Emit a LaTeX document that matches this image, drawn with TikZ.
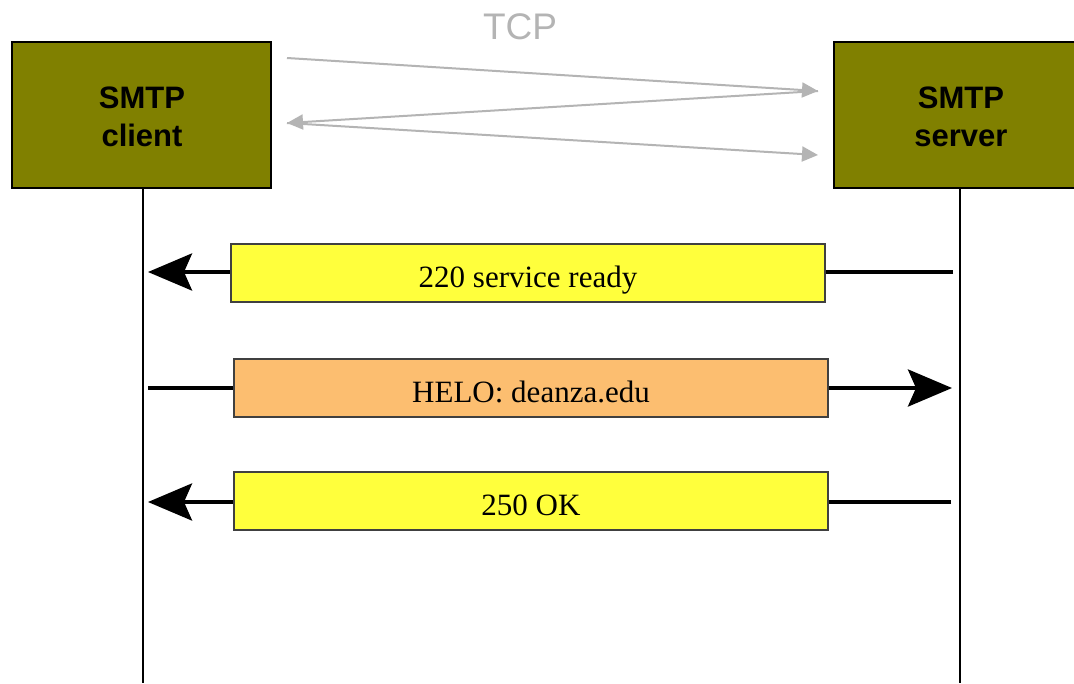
\documentclass[tikz,border=0pt]{standalone}
\usepackage{fontspec}
\setmainfont{Liberation Serif}
\setsansfont{Liberation Sans}
\usetikzlibrary{arrows.meta}
\definecolor{olivebox}{RGB}{128,128,0}
\definecolor{msgyellow}{RGB}{255,255,60}
\definecolor{msgorange}{RGB}{252,190,112}
\definecolor{tcpgray}{RGB}{180,180,180}
\tikzset{
  party/.style={draw=black, line width=2pt, fill=olivebox, minimum width=259pt,
    minimum height=146pt, inner sep=0pt},
  partytext/.style={align=center, inner sep=0pt,
    font=\sffamily\bfseries\fontsize{31}{38}\selectfont},
  msgbox/.style={draw=black!75, line width=1.3pt, minimum width=594pt,
    minimum height=58pt, inner sep=0pt, text height=28pt, text depth=0pt,
    font=\fontsize{31}{36}\selectfont},
  lifeline/.style={black, line width=1.4pt},
  msgline/.style={black, line width=4pt},
  bigtip/.style={-{Stealth[length=44pt, width=37pt, inset=8pt]}},
  tcpline/.style={tcpgray, line width=2pt, -{Triangle[length=16pt, width=15pt]}}
}
\begin{document}
\begin{tikzpicture}[x=1pt, y=-1pt]
  \useasboundingbox (0,0) rectangle (1074,683);
  \clip (0,0) rectangle (1074,683);
  \fill[white] (0,0) rectangle (1074,683);

  % the two parties
  \node[party] (client) at (141.5,115) {};
  \node[partytext] (clienttxt) at (142,117) {SMTP\\client};
  \node[party, minimum width=300pt] (server) at (984,115) {};
  \node[partytext] (servertxt) at (961,117) {SMTP\\server};

  % lifelines
  \coordinate (cbot) at (143,683);
  \coordinate (sbot) at (960,683);
  \draw[lifeline] (client.south -| cbot) -- (cbot);
  \draw[lifeline] (server.south -| sbot) -- (sbot);

  % TCP connection setup
  \node[font=\sffamily\fontsize{37}{40}\selectfont, text=tcpgray] (tcp) at (520,26.5) {TCP};
  \coordinate (t1) at (287,58);
  \coordinate (t2) at (818,91);
  \coordinate (t3) at (287,123);
  \coordinate (t4) at (818,155);
  \draw[tcpline] (t1) -- (t2);
  \draw[tcpline] (t2) -- (t3);
  \draw[tcpline] (t3) -- (t4);

  % message arrows between the lifelines
  \coordinate (a1s) at (953,272);  \coordinate (a1c) at (148,272);
  \coordinate (a2c) at (148,388);  \coordinate (a2s) at (952,388);
  \coordinate (a3s) at (951,502);  \coordinate (a3c) at (148,502);
  \draw[msgline, bigtip] (a1s) -- (a1c);
  \draw[msgline, bigtip] (a2c) -- (a2s);
  \draw[msgline, bigtip] (a3s) -- (a3c);

  % message labels
  \node[msgbox, fill=msgyellow] (m1) at (528,273) {220 service ready};
  \node[msgbox, fill=msgorange] (m2) at (531,388) {HELO: deanza.edu};
  \node[msgbox, fill=msgyellow] (m3) at (531,501) {250 OK};
\end{tikzpicture}
\end{document}
